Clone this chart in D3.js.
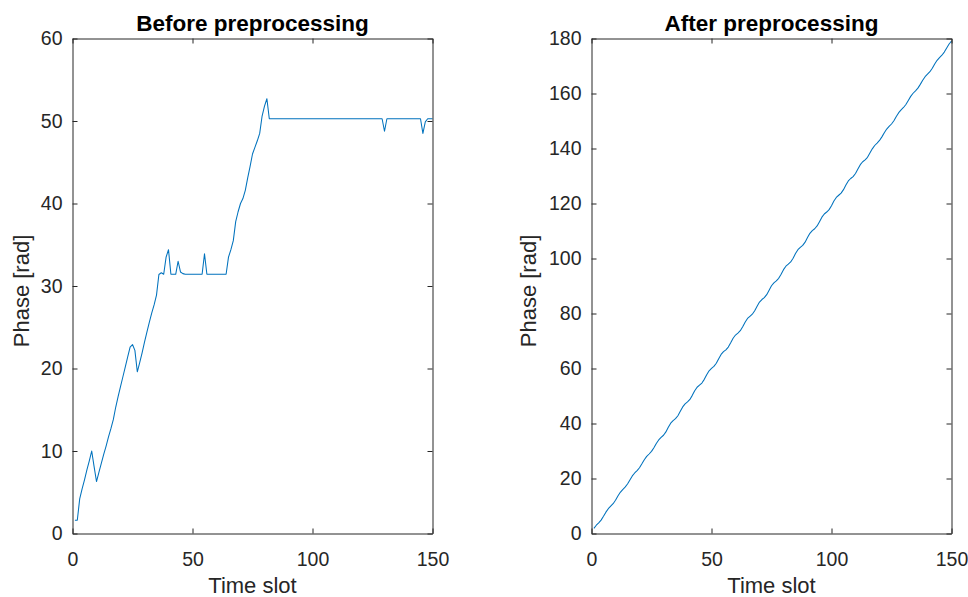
<!DOCTYPE html>
<html>
<head>
<meta charset="utf-8">
<script src="https://cdn.jsdelivr.net/npm/d3@7"></script>
<style>
  html, body { margin: 0; padding: 0; background: #fff; }
  svg { display: block; font-family: "Liberation Sans", Arial, Helvetica, sans-serif; }
</style>
</head>
<body>
<svg id="chart" width="968" height="597"></svg>
<script>
// Phase of one time slot after another, raw (wrapped / jumping) values
const phaseBefore = [
  1.6, 1.6, 4.2, 5.4, 6.5, 7.7, 8.8, 10.0, 8.1, 6.3,
  7.4, 8.5, 9.6, 10.6, 11.7, 12.7, 13.8, 15.3, 16.6, 17.8,
  19.0, 20.2, 21.4, 22.6, 22.9, 22.2, 19.6, 20.7, 21.9, 23.2,
  24.4, 25.6, 26.7, 27.7, 28.9, 31.4, 31.6, 31.42, 33.5, 34.4,
  31.42, 31.42, 31.42, 33.0, 31.7, 31.5, 31.42, 31.42, 31.42, 31.42,
  31.42, 31.42, 31.42, 31.42, 33.9, 31.42, 31.42, 31.42, 31.42, 31.42,
  31.42, 31.42, 31.42, 31.42, 33.5, 34.4, 35.5, 37.8, 39.0, 40.0,
  40.6, 41.6, 43.1, 44.5, 46.0, 46.8, 47.6, 48.5, 50.6, 51.8,
  52.7, 50.27, 50.27, 50.27, 50.27, 50.27, 50.27, 50.27, 50.27, 50.27,
  50.27, 50.27, 50.27, 50.27, 50.27, 50.27, 50.27, 50.27, 50.27, 50.27,
  50.27, 50.27, 50.27, 50.27, 50.27, 50.27, 50.27, 50.27, 50.27, 50.27,
  50.27, 50.27, 50.27, 50.27, 50.27, 50.27, 50.27, 50.27, 50.27, 50.27,
  50.27, 50.27, 50.27, 50.27, 50.27, 50.27, 50.27, 50.27, 50.27, 48.76,
  50.27, 50.27, 50.27, 50.27, 50.27, 50.27, 50.27, 50.27, 50.27, 50.27,
  50.27, 50.27, 50.27, 50.27, 50.27, 48.5, 49.9, 50.27, 50.27, 50.27
];

// Unwrapped phase of the same time slots
const phaseAfter = [
  1.87, 3.02, 3.88, 4.87, 6.24, 7.76, 9.02, 9.93, 10.84, 12.10,
  13.63, 14.99, 15.98, 16.84, 17.99, 19.48, 20.93, 22.01, 22.87, 23.91,
  25.33, 26.84, 28.03, 28.91, 29.87, 31.19, 32.72, 34.02, 34.96, 35.72,
  36.95, 38.62, 40.13, 41.07, 41.76, 42.82, 44.42, 46.04, 47.14, 47.84,
  48.75, 50.23, 51.91, 53.18, 53.94, 54.72, 56.05, 57.74, 59.17, 60.03,
  60.75, 61.90, 63.55, 65.11, 66.12, 66.80, 67.80, 69.35, 71.00, 72.17,
  72.89, 73.74, 75.16, 76.85, 78.19, 78.99, 79.74, 80.99, 82.67, 84.16,
  85.08, 85.78, 86.86, 88.47, 90.08, 91.16, 91.85, 92.78, 94.28, 95.95,
  97.20, 97.94, 98.75, 100.09, 101.79, 103.19, 104.04, 104.76, 105.94, 107.60,
  109.14, 110.13, 110.82, 111.83, 113.40, 115.04, 116.19, 116.90, 117.77, 119.21,
  120.90, 122.21, 123.00, 123.76, 125.04, 126.72, 128.19, 129.09, 129.79, 130.90,
  132.53, 134.12, 135.17, 135.86, 136.81, 138.37, 139.88, 141.09, 141.97, 142.92,
  144.23, 145.75, 147.07, 148.02, 148.91, 150.11, 151.61, 153.03, 154.07, 154.92,
  156.01, 157.46, 158.95, 160.09, 160.96, 161.95, 163.32, 164.84, 166.10, 167.01,
  167.92, 169.19, 170.71, 172.07, 173.06, 173.92, 175.07, 176.56, 178.01, 179.09
];

const xTicks = [0, 50, 100, 150];
const yTicksBefore = [0, 10, 20, 30, 40, 50, 60];
const yTicksAfter = [0, 20, 40, 60, 80, 100, 120, 140, 160, 180];

const panels = [
  { title: "Before preprocessing", values: phaseBefore, yMax: 60, yTicks: yTicksBefore, left: 72.5, labelGap: 44 },
  { title: "After preprocessing",  values: phaseAfter,  yMax: 180, yTicks: yTicksAfter, left: 591.5, labelGap: 56 }
];

const svg = d3.select("#chart");
const axisColor = "#262626";
const lineColor = "#0072BD";
const plotTop = 38.5, plotBottom = 533.5, plotW = 360;
const tickLen = 5;

panels.forEach(p => {
  const x = d3.scaleLinear().domain([0, 150]).range([p.left, p.left + plotW]);
  const y = d3.scaleLinear().domain([0, p.yMax]).range([plotBottom, plotTop]);

  const g = svg.append("g");

  // data line
  const line = d3.line().x((d, i) => x(i + 1)).y(d => y(d));
  g.append("path")
    .datum(p.values)
    .attr("fill", "none")
    .attr("stroke", lineColor)
    .attr("stroke-width", 1.05)
    .attr("stroke-linejoin", "round")
    .attr("d", line);

  const styleAxis = sel => {
    sel.select(".domain").attr("stroke", axisColor).attr("stroke-width", 1).attr("fill", "none");
    sel.selectAll(".tick line").attr("stroke", axisColor).attr("stroke-width", 1);
    sel.selectAll(".tick text").attr("fill", axisColor).style("font-size", "19.5px");
  };

  // bottom axis with labels, ticks pointing inward
  g.append("g")
    .attr("transform", `translate(0,${plotBottom})`)
    .call(d3.axisBottom(x).tickValues(xTicks).tickSizeInner(-tickLen).tickSizeOuter(0).tickPadding(19))
    .call(styleAxis);

  // top axis (box edge), no labels
  g.append("g")
    .attr("transform", `translate(0,${plotTop})`)
    .call(d3.axisTop(x).tickValues(xTicks).tickSizeInner(-tickLen).tickSizeOuter(0).tickFormat(""))
    .call(styleAxis);

  // left axis with labels
  g.append("g")
    .attr("transform", `translate(${p.left},0)`)
    .call(d3.axisLeft(y).tickValues(p.yTicks).tickSizeInner(-tickLen).tickSizeOuter(0).tickPadding(10))
    .call(styleAxis);

  // right axis (box edge), no labels
  g.append("g")
    .attr("transform", `translate(${p.left + plotW},0)`)
    .call(d3.axisRight(y).tickValues(p.yTicks).tickSizeInner(-tickLen).tickSizeOuter(0).tickFormat(""))
    .call(styleAxis);

  const cx = p.left + plotW / 2;

  // title
  g.append("text")
    .attr("x", cx).attr("y", 31)
    .attr("text-anchor", "middle")
    .attr("fill", "#000")
    .style("font-size", "22.5px")
    .style("font-weight", "bold")
    .text(p.title);

  // x label
  g.append("text")
    .attr("x", cx).attr("y", 593)
    .attr("text-anchor", "middle")
    .attr("fill", axisColor)
    .style("font-size", "22px")
    .text("Time slot");

  // y label
  g.append("text")
    .attr("transform", `translate(${p.left - p.labelGap},${(plotTop + plotBottom) / 2 + 5}) rotate(-90)`)
    .attr("text-anchor", "middle")
    .attr("fill", axisColor)
    .style("font-size", "22px")
    .text("Phase [rad]");
});
</script>
</body>
</html>
